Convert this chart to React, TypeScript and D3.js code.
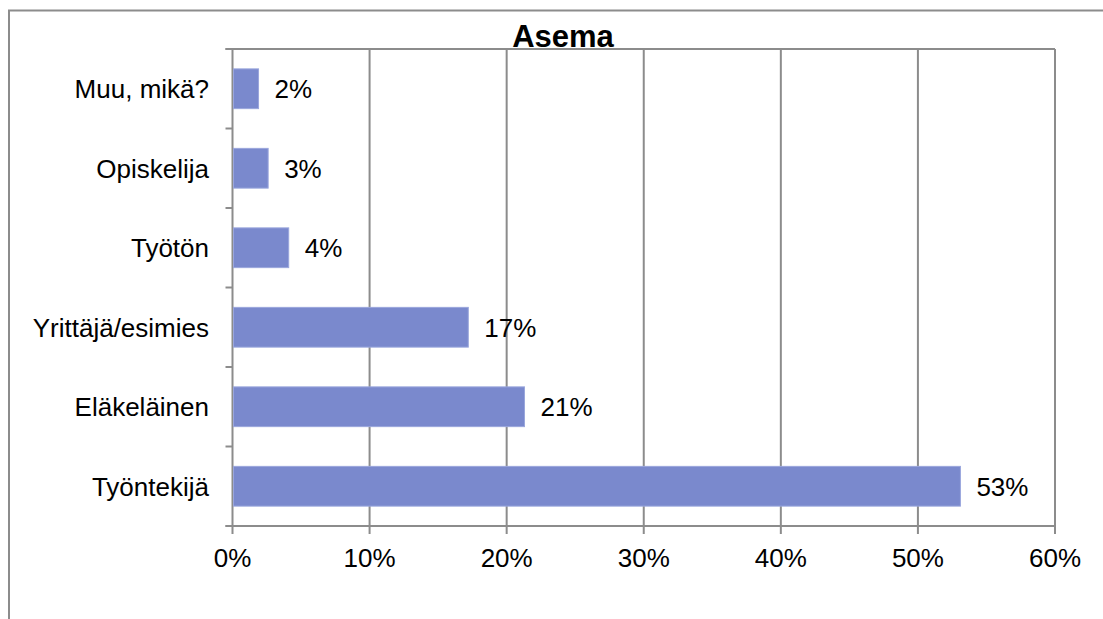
import * as d3 from "d3";

const categories = ["Muu, mikä?", "Opiskelija", "Työtön", "Yrittäjä/esimies", "Eläkeläinen", "Työntekijä"];
const values = [1.9, 2.6, 4.1, 17.2, 21.3, 53.1];
const valueLabels = ["2%", "3%", "4%", "17%", "21%", "53%"];
const xTicks = [0, 10, 20, 30, 40, 50, 60];

const W = 1103;
const H = 619;
const plot = { left: 232.5, right: 1055, top: 49, bottom: 526 };
const grey = "#8c8c8c";
const font = "Liberation Sans, Arial, sans-serif";

export default function App() {
  const x = d3.scaleLinear().domain([0, 60]).range([plot.left, plot.right]);
  const y = d3
    .scaleBand<string>()
    .domain(categories)
    .range([plot.top, plot.bottom])
    .paddingInner(0.5)
    .paddingOuter(0.25);
  const band = (plot.bottom - plot.top) / categories.length;

  return (
    <svg
      width={W}
      height={H}
      style={{ position: "absolute", left: 0, top: 0, background: "#fff" }}
      fontFamily={font}
    >
      {/* outer chart frame, runs off the picture to the right and bottom */}
      <rect x={9} y={10.5} width={W + 20} height={H + 20} fill="none" stroke={grey} strokeWidth={2} />

      <text x={563} y={47} textAnchor="middle" fontSize={31} fontWeight="bold">
        Asema
      </text>

      {/* gridlines */}
      {xTicks.map((t) => (
        <line key={t} x1={x(t)} x2={x(t)} y1={plot.top} y2={plot.bottom + 8} stroke={grey} strokeWidth={2} />
      ))}
      <line x1={plot.left - 7} x2={plot.right} y1={plot.top} y2={plot.top} stroke={grey} strokeWidth={2} />
      <line x1={plot.left - 7} x2={plot.right} y1={plot.bottom} y2={plot.bottom} stroke={grey} strokeWidth={2} />

      {/* category ticks */}
      {d3.range(categories.length + 1).map((i) => (
        <line
          key={i}
          x1={plot.left - 7}
          x2={plot.left}
          y1={plot.top + i * band}
          y2={plot.top + i * band}
          stroke={grey}
          strokeWidth={2}
        />
      ))}

      {categories.map((c, i) => {
        const cy = (y(c) ?? 0) + y.bandwidth() / 2;
        return (
          <g key={c}>
            <rect
              x={x(0) + 1}
              y={y(c)}
              width={x(values[i]) - x(0) - 1}
              height={y.bandwidth()}
              fill="#7a89cd"
              stroke="#9aa6dc"
              strokeWidth={1}
            />
            <text x={209} y={cy + 9.5} textAnchor="end" fontSize={26}>
              {c}
            </text>
            <text x={x(values[i]) + 16} y={cy + 9.5} fontSize={26}>
              {valueLabels[i]}
            </text>
          </g>
        );
      })}

      {xTicks.map((t) => (
        <text key={t} x={x(t)} y={567} textAnchor="middle" fontSize={26}>
          {t}%
        </text>
      ))}
    </svg>
  );
}
